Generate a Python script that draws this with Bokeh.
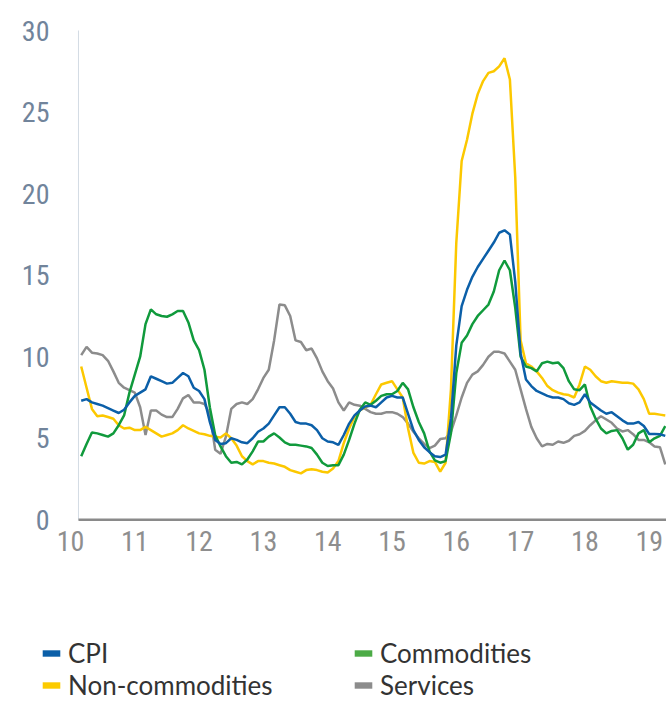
from bokeh.plotting import figure
from bokeh.models import Range1d, FixedTicker, Legend, LegendItem, ColumnDataSource
from bokeh.embed import file_html
from bokeh.resources import INLINE

# Monthly inflation rates (%), March 2010 to April 2019
months = [10 + (m + 2) / 12 for m in range(110)]

cpi = [7.3, 7.4, 7.2, 7.1, 7.0, 6.85, 6.7, 6.55, 6.75, 7.2,
       7.6, 7.8, 8.0, 8.8, 8.65, 8.5, 8.35, 8.4, 8.7, 9.0,
       8.8, 8.1, 7.9, 7.4, 6.0, 4.9, 4.65, 4.7, 5.0, 4.9,
       4.75, 4.7, 5.0, 5.4, 5.6, 5.9, 6.4, 6.9, 6.9, 6.5,
       6.0, 5.9, 5.9, 5.8, 5.5, 5.0, 4.8, 4.75, 4.6, 5.2,
       5.9, 6.4, 6.7, 6.95, 7.0, 6.9, 7.2, 7.5, 7.6, 7.5,
       7.5, 6.5, 5.5, 4.9, 4.45, 4.15, 3.9, 3.85, 4.0, 6.2,
       10.7, 13.1, 14.1, 14.9, 15.5, 16.0, 16.5, 17.0, 17.6, 17.75,
       17.5, 14.6, 10.2, 8.6, 8.2, 7.9, 7.75, 7.6, 7.5, 7.5,
       7.4, 7.15, 7.05, 7.2, 7.7, 7.2, 6.95, 6.7, 6.5, 6.6,
       6.35, 6.1, 5.9, 5.9, 6.0, 5.75, 5.26, 5.26, 5.25, 5.15]

non_commodities = [9.4, 8.1, 6.8, 6.35, 6.4, 6.3, 6.2, 5.8, 5.6, 5.65,
                   5.5, 5.5, 5.7, 5.5, 5.3, 5.1, 5.2, 5.3, 5.5, 5.8,
                   5.6, 5.45, 5.3, 5.25, 5.15, 5.1, 5.05, 5.3, 5.0, 4.55,
                   3.9, 3.6, 3.4, 3.6, 3.6, 3.5, 3.45, 3.35, 3.25, 3.05,
                   2.95, 2.85, 3.05, 3.1, 3.05, 2.95, 2.9, 3.15, 3.6, 4.7,
                   5.6, 6.3, 6.7, 6.9, 7.05, 7.7, 8.3, 8.4, 8.5, 8.0,
                   7.5, 5.6, 4.1, 3.5, 3.45, 3.6, 3.55, 2.95, 3.5, 8.0,
                   17.0, 22.0, 23.3, 24.9, 26.1, 26.9, 27.4, 27.5, 27.8, 28.3,
                   27.0, 21.0, 11.0, 9.6, 9.4, 9.1, 8.7, 8.2, 7.95, 7.8,
                   7.7, 7.65, 7.5, 8.3, 9.4, 9.2, 8.8, 8.5, 8.4, 8.5,
                   8.45, 8.4, 8.4, 8.35, 8.0, 7.4, 6.5, 6.5, 6.45, 6.4]

commodities = [3.9, 4.65, 5.35, 5.3, 5.2, 5.1, 5.3, 5.8, 6.4, 7.8,
               8.9, 10.0, 12.0, 12.9, 12.6, 12.5, 12.45, 12.6, 12.8, 12.8,
               12.1, 11.0, 10.4, 9.2, 6.9, 5.2, 4.5, 3.9, 3.5, 3.55,
               3.4, 3.7, 4.2, 4.8, 4.8, 5.1, 5.3, 5.05, 4.75, 4.6,
               4.6, 4.55, 4.5, 4.4, 4.0, 3.5, 3.3, 3.35, 3.35, 4.0,
               4.9, 5.9, 6.75, 7.2, 7.05, 7.3, 7.6, 7.7, 7.7, 7.9,
               8.4, 8.0, 6.9, 6.0, 5.3, 4.2, 3.65, 3.5, 3.6, 5.3,
               9.0, 10.85, 11.3, 12.0, 12.5, 12.85, 13.2, 14.0, 15.3, 15.9,
               15.3, 13.0, 10.0, 9.4, 9.3, 9.1, 9.6, 9.7, 9.6, 9.65,
               9.3, 8.5, 8.0, 7.95, 8.3, 6.95, 6.2, 5.6, 5.3, 5.45,
               5.5, 5.0, 4.3, 4.6, 5.3, 5.5, 4.75, 5.0, 5.15, 5.75]

services = [10.1, 10.6, 10.25, 10.2, 10.1, 9.75, 9.1, 8.4, 8.1, 7.95,
            7.8, 6.9, 5.2, 6.7, 6.7, 6.45, 6.3, 6.3, 6.8, 7.45,
            7.65, 7.2, 7.2, 7.1, 6.5, 4.3, 4.05, 5.1, 6.8, 7.1,
            7.2, 7.1, 7.4, 8.0, 8.7, 9.2, 11.0, 13.2, 13.15, 12.5,
            11.0, 10.9, 10.4, 10.5, 9.9, 9.1, 8.5, 8.05, 7.2, 6.7,
            7.2, 7.05, 7.0, 6.8, 6.6, 6.5, 6.5, 6.6, 6.6, 6.5,
            6.3, 5.9, 5.4, 5.0, 4.65, 4.4, 4.55, 4.95, 5.0, 5.4,
            6.4, 7.5, 8.4, 8.9, 9.1, 9.5, 10.0, 10.3, 10.3, 10.2,
            9.7, 9.2, 8.0, 6.8, 5.7, 5.0, 4.5, 4.65, 4.6, 4.8,
            4.72, 4.85, 5.15, 5.25, 5.45, 5.8, 6.1, 6.35, 6.15, 5.95,
            5.6, 5.42, 5.5, 5.25, 4.9, 4.9, 4.75, 4.5, 4.45, 3.4]

year_ticks = [10, 11, 12, 13, 14, 15, 16, 17, 18, 19]
year_labels = ["10", "11", "12", "13", "14", "15", "16", "17", "18", "19"]
rate_ticks = [0, 5, 10, 15, 20, 25, 30]

series_names = ["CPI", "Non-commodities", "Commodities", "Services"]
line_colors = ["#0b5fa8", "#fcc800", "#109a3c", "#8c8c8c"]
key_colors = ["#0b5fa8", "#fccb00", "#4cab46", "#8c8c8c"]

AXIS_X = 10.124   # where the vertical axis line sits (just before the first month)

# The frame covers the whole canvas; both axes are pinned to fixed positions
# inside it so the tick labels and the legend underneath are not clipped.
p = figure(width=666, height=702, output_backend="svg", toolbar_location=None,
           x_range=Range1d(8.9114, 19.269), y_range=Range1d(-11.2, 31.84),
           min_border_left=0, min_border_right=0, min_border_top=0,
           min_border_bottom=0)
p.outline_line_color = None
p.xgrid.visible = False
p.ygrid.visible = False
p.background_fill_color = "white"
p.border_fill_color = "white"

axis_font = "'Liberation Sans Narrow', 'Roboto Condensed', 'DejaVu Sans Condensed', sans-serif"

xa = p.xaxis[0]
xa.fixed_location = 0
xa.ticker = FixedTicker(ticks=year_ticks)
xa.major_label_overrides = {t: s for t, s in zip(year_ticks, year_labels)}
xa.axis_line_color = None
xa.major_tick_line_color = None
xa.minor_tick_line_color = None
xa.major_label_standoff = 5
xa.major_label_text_font = axis_font
xa.major_label_text_font_size = "28px"
xa.major_label_text_color = "#8e8e8e"

ya = p.yaxis[0]
ya.fixed_location = AXIS_X
ya.ticker = FixedTicker(ticks=rate_ticks)
ya.axis_line_color = None
ya.major_tick_line_color = None
ya.minor_tick_line_color = None
ya.major_label_standoff = 23
ya.major_label_text_align = "center"
ya.major_label_text_font = axis_font
ya.major_label_text_font_size = "28px"
ya.major_label_text_color = "#71849b"

# thin vertical axis line and heavier baseline
p.segment(x0=[AXIS_X], y0=[0], x1=[AXIS_X], y1=[rate_ticks[-1]], line_color="#d3dbe4", line_width=1)
p.segment(x0=[AXIS_X], y0=[0], x1=[19.3], y1=[0], line_color="#8a8a8a", line_width=2.5)

series = [cpi, non_commodities, commodities, services]
draw_order = [3, 1, 2, 0]
for k in draw_order:
    p.line(months, series[k], line_color=line_colors[k], line_width=2.5)

# legend keys: filled bars (renderers with an empty point, only used by the legend)
key_renderers = []
for k in range(4):
    src = ColumnDataSource(dict(l=[float("nan")], r=[float("nan")],
                                b=[float("nan")], t=[float("nan")]))
    key_renderers.append(p.quad(left="l", right="r", bottom="b", top="t", source=src,
                                fill_color=key_colors[k], line_color=None))

def make_legend(idx, loc):
    leg = Legend(items=[LegendItem(label=series_names[k], renderers=[key_renderers[k]]) for k in idx],
                 location=loc, orientation="vertical", padding=0, margin=0, spacing=0,
                 glyph_width=22, glyph_height=8, label_standoff=6, label_height=30,
                 label_text_font="Lato", label_text_font_size="26px",
                 label_text_color="#333333", background_fill_alpha=0,
                 border_line_color=None)
    p.add_layout(leg)

make_legend([0, 1], (40, 1))
make_legend([2, 3], (352, 1))

open("out.html", "w").write(file_html(p, INLINE))
